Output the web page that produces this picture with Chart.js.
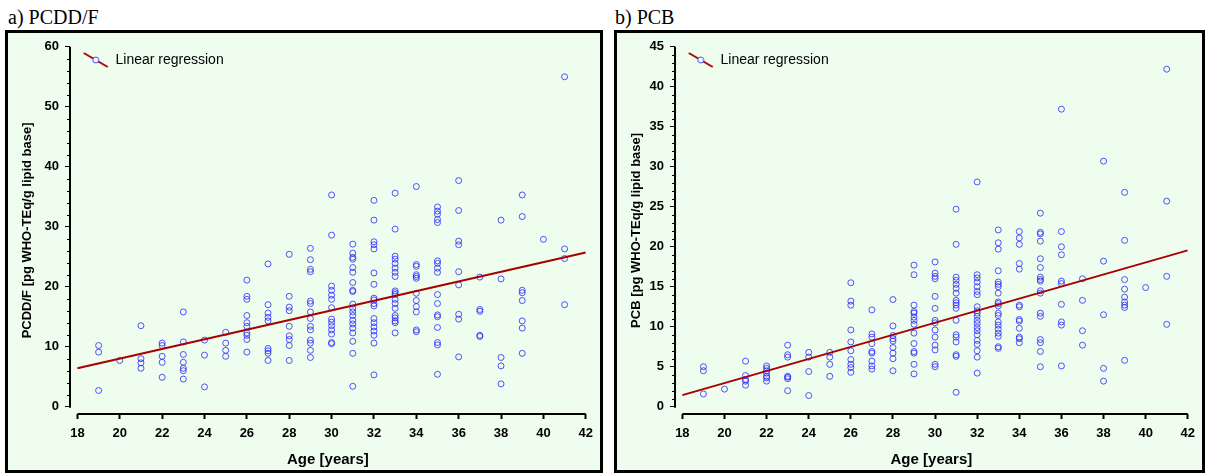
<!DOCTYPE html>
<html lang="en">
<head>
<meta charset="UTF-8">
<title>PCDD/F and PCB vs age</title>
<script src="https://cdn.jsdelivr.net/npm/chart.js@4.4.0/dist/chart.umd.min.js"></script>
<style>
    body {
        margin: 0;
        width: 1208px;
        height: 475px;
        position: relative;
        overflow: hidden;
        background: #fff;
        font-family: 'Liberation Sans', Arial, sans-serif;
    }
    .caption {
        position: absolute;
        top: 7px;
        font-family: 'Liberation Serif', 'Times New Roman', serif;
        font-size: 20px;
        line-height: 20px;
        color: #000;
    }
    .panel {
        position: absolute;
        top: 30px;
        border: 3px solid #000;
        background: #eefdee;
    }
    .panel canvas { display: block; }
</style>
</head>
<body>
<div class="caption" style="left:8px">a) PCDD/F</div>
<div class="caption" style="left:615px">b) PCB</div>
<div class="panel" style="left:5px;width:592px;height:437px"><canvas id="chartA" width="592" height="437"></canvas></div>
<div class="panel" style="left:614px;width:585px;height:437px"><canvas id="chartB" width="585" height="437"></canvas></div>

<script>
// ages at which samples were taken (x categories)
const ages = [19, 20, 21, 22, 23, 24, 25, 26, 27, 28, 29, 30, 31, 32, 33, 34, 35, 36, 37, 38, 39, 40, 41];
const ageTicks = [18, 20, 22, 24, 26, 28, 30, 32, 34, 36, 38, 40, 42];

// PCDD/F values per age (pg WHO-TEq/g lipid base)
const pcddfValues = [
    [10.2, 9.1, 2.7],
    [7.7],
    [13.5, 8.0, 7.3, 6.4],
    [10.6, 10.2, 8.4, 7.4, 4.9],
    [15.8, 10.8, 8.7, 7.4, 6.4, 6.0, 4.6],
    [11.1, 8.6, 3.3],
    [12.4, 10.6, 9.4, 8.4],
    [21.1, 18.4, 17.9, 15.2, 14.0, 13.4, 12.3, 11.9, 11.2, 9.1],
    [23.8, 17.0, 15.6, 14.9, 14.3, 9.7, 9.3, 8.9, 7.7],
    [25.4, 18.4, 16.6, 16.0, 13.4, 11.8, 11.2, 10.2, 7.7],
    [26.4, 24.5, 22.9, 22.5, 17.6, 17.2, 15.8, 14.7, 13.4, 12.8, 11.1, 10.6, 9.4, 8.2],
    [35.3, 28.6, 20.1, 19.4, 18.6, 17.9, 16.5, 14.6, 14.1, 13.5, 12.8, 12.1, 10.7, 10.5],
    [27.1, 25.6, 24.9, 24.6, 23.2, 22.4, 20.7, 19.4, 19.2, 17.1, 16.4, 15.8, 15.2, 14.4, 13.8, 13.1, 12.3, 10.9, 8.9, 3.4],
    [34.4, 31.1, 27.5, 27.0, 26.3, 22.3, 20.4, 18.1, 17.8, 17.2, 16.8, 14.7, 14.0, 13.3, 12.6, 11.9, 10.6, 5.3],
    [35.6, 29.6, 25.1, 24.6, 23.9, 23.1, 22.4, 21.7, 19.3, 19.0, 18.7, 17.9, 17.2, 16.4, 15.2, 14.8, 14.3, 14.0, 12.3],
    [36.7, 23.7, 23.4, 22.0, 21.7, 21.4, 18.9, 17.7, 16.7, 15.8, 12.8, 12.5],
    [33.3, 32.6, 32.1, 31.2, 30.7, 24.3, 23.9, 23.1, 22.4, 18.7, 17.2, 15.3, 15.0, 13.2, 10.7, 10.3, 5.4],
    [37.7, 32.7, 27.6, 27.0, 22.5, 20.3, 15.4, 14.6, 8.3],
    [21.6, 16.2, 15.9, 11.9, 11.7],
    [31.1, 21.3, 8.2, 6.8, 3.8],
    [35.3, 31.7, 19.4, 19.0, 17.7, 14.3, 13.1, 8.9],
    [27.9],
    [55.0, 26.3, 24.7, 17.0]
];

// PCB values per age (pg WHO-TEq/g lipid base)
const pcbValues = [
    [5.0, 4.5, 1.6],
    [2.2],
    [5.7, 3.9, 3.4, 3.2, 2.7],
    [5.1, 4.8, 4.5, 4.2, 3.8, 3.6, 3.2],
    [7.7, 6.5, 6.2, 3.8, 3.7, 3.5, 2.0],
    [6.8, 6.2, 4.4, 1.4],
    [6.8, 6.2, 5.3, 3.8],
    [15.5, 13.2, 12.7, 9.6, 8.1, 7.0, 5.9, 5.3, 4.9, 4.3],
    [12.1, 9.1, 8.7, 7.9, 6.9, 6.7, 5.7, 5.1, 4.7],
    [13.4, 10.1, 8.9, 8.5, 8.2, 7.4, 6.7, 6.0, 4.5],
    [17.7, 16.5, 12.7, 11.9, 11.7, 11.2, 10.8, 10.3, 9.2, 7.9, 6.9, 6.7, 5.3, 4.1],
    [18.1, 16.7, 16.3, 16.0, 13.8, 12.3, 10.8, 10.5, 9.6, 8.7, 7.7, 7.1, 5.3, 5.0],
    [24.7, 20.3, 16.2, 15.8, 15.3, 14.8, 14.2, 13.3, 13.0, 12.7, 12.3, 10.8, 9.0, 8.7, 8.1, 6.5, 6.3, 1.8],
    [28.1, 16.5, 16.1, 15.6, 15.0, 14.4, 14.0, 12.5, 12.0, 11.7, 11.3, 10.8, 10.4, 9.9, 9.5, 9.0, 8.3, 7.8, 7.0, 6.2, 4.2],
    [22.1, 20.5, 19.7, 17.0, 15.6, 15.3, 15.0, 14.2, 13.1, 12.9, 12.6, 11.7, 11.4, 10.6, 10.2, 9.7, 9.2, 8.8, 7.5, 7.3],
    [21.9, 21.1, 20.3, 17.9, 17.2, 12.7, 12.5, 10.9, 10.7, 9.8, 8.7, 8.5, 8.0],
    [24.2, 21.8, 21.6, 20.7, 18.5, 17.4, 16.2, 15.9, 15.7, 14.5, 14.2, 11.7, 11.3, 8.4, 8.0, 6.9, 5.0],
    [37.2, 21.9, 20.0, 19.0, 15.7, 15.4, 12.8, 10.6, 10.2, 5.1],
    [16.0, 13.3, 9.5, 7.7],
    [30.7, 18.2, 11.5, 4.8, 3.2],
    [26.8, 20.8, 15.9, 14.7, 13.7, 13.1, 12.7, 12.4, 5.8],
    [14.9],
    [42.2, 25.7, 16.3, 10.3]
];

// regression line end points
const fitA = [{x: 18, y: 6.4}, {x: 42, y: 25.7}];
const fitB = [{x: 18, y: 1.45}, {x: 42, y: 19.55}];

const pcddfTicks = [0, 10, 20, 30, 40, 50, 60];
const pcbTicks = [0, 5, 10, 15, 20, 25, 30, 35, 40, 45];

const bgColor = '#eefdee';
const pointColor = 'rgba(40, 40, 255, 0.8)';
const lineColor = '#a80000';
const fontFamily = "'Liberation Sans', Arial, sans-serif";

function toPoints(values) {
    const pts = [];
    ages.forEach((age, i) => values[i].forEach(v => pts.push({x: age, y: v})));
    return pts;
}

// legend symbol: slanted line with a circle on it
function legendIcon() {
    const c = document.createElement('canvas');
    c.width = 40;
    c.height = 20;
    const g = c.getContext('2d');
    const cx = 23, cy = 10;
    g.strokeStyle = lineColor;
    g.lineWidth = 2;
    g.beginPath();
    g.moveTo(cx - 12, cy - 7);
    g.lineTo(cx + 12, cy + 7);
    g.stroke();
    g.fillStyle = bgColor;
    g.strokeStyle = pointColor;
    g.lineWidth = 1;
    g.beginPath();
    g.arc(cx, cy, 3, 0, Math.PI * 2);
    g.fill();
    g.stroke();
    return c;
}

// axis lines detached from each other + minor y ticks
const axisLines = {
    id: 'axisLines',
    afterDraw(chart, args, o) {
        const {ctx, chartArea, scales: {x, y}} = chart;
        ctx.save();
        ctx.strokeStyle = '#000';
        ctx.lineWidth = 2;
        ctx.beginPath();
        ctx.moveTo(chartArea.left, y.getPixelForValue(o.yMax));
        ctx.lineTo(chartArea.left, y.getPixelForValue(0) + 1);
        ctx.moveTo(x.getPixelForValue(ageTicks[0]), chartArea.bottom);
        ctx.lineTo(x.getPixelForValue(ageTicks[ageTicks.length - 1]), chartArea.bottom);
        ctx.stroke();
        ctx.lineWidth = 1;
        ctx.beginPath();
        for (let v = 0; v <= o.yMax; v += o.minor) {
            if (v % o.major === 0) continue;
            const py = Math.round(y.getPixelForValue(v)) + 0.5;
            ctx.moveTo(chartArea.left - 3, py);
            ctx.lineTo(chartArea.left, py);
        }
        ctx.stroke();
        ctx.restore();
    }
};

function makeChart(id, cfg) {
    const tickFont = {family: fontFamily, size: 13, weight: 'bold'};
    return new Chart(document.getElementById(id), {
        type: 'scatter',
        data: {
            datasets: [{
                label: 'Linear regression',
                data: cfg.fit,
                showLine: true,
                borderColor: lineColor,
                borderWidth: 2,
                pointRadius: 0,
                pointStyle: legendIcon()
            }, {
                label: 'samples',
                data: toPoints(cfg.values),
                pointStyle: 'circle',
                pointRadius: 3,
                borderWidth: 1,
                borderColor: pointColor,
                backgroundColor: 'rgba(0,0,0,0)'
            }]
        },
        options: {
            responsive: false,
            animation: false,
            events: [],
            layout: {padding: {top: 13.7, right: cfg.padRight, left: 0, bottom: 0}},
            plugins: {
                tooltip: {enabled: false},
                axisLines: {yMax: cfg.yMax, minor: cfg.minor, major: cfg.major},
                legend: {
                    position: 'chartArea',
                    align: 'start',
                    // empty title only used to push the entry down
                    title: {display: true, text: ' ', font: {size: 10}, padding: {top: 1, bottom: 0}},
                    labels: {
                        usePointStyle: true,
                        pointStyleWidth: 31.5,
                        padding: 7,
                        color: '#000',
                        font: {family: fontFamily, size: 14},
                        filter: item => item.datasetIndex === 0
                    }
                }
            },
            scales: {
                x: {
                    type: 'linear',
                    min: 17.65,
                    max: 42,
                    afterBuildTicks: s => { s.ticks = ageTicks.map(v => ({value: v})); },
                    afterFit: s => { s.height = 56; },
                    border: {display: false},
                    grid: {drawOnChartArea: false, drawTicks: true, tickLength: 5, tickWidth: 2, tickColor: '#000'},
                    ticks: {color: '#000', font: tickFont, padding: 7, maxRotation: 0, autoSkip: false},
                    title: {
                        display: true,
                        text: 'Age [years]',
                        color: '#000',
                        font: {family: fontFamily, size: 15, weight: 'bold'},
                        padding: {top: 0, bottom: 1.5}
                    }
                },
                y: {
                    type: 'linear',
                    min: cfg.yMin,
                    max: cfg.yMax,
                    afterBuildTicks: s => { s.ticks = cfg.yTicks.map(v => ({value: v})); },
                    afterFit: s => { s.width = cfg.yWidth; },
                    border: {display: false},
                    grid: {drawOnChartArea: false, drawTicks: true, tickLength: 5, tickWidth: 1, tickColor: '#000'},
                    ticks: {color: '#000', font: tickFont, padding: 6, autoSkip: false},
                    title: {
                        display: true,
                        text: cfg.yTitle,
                        color: '#000',
                        font: {family: fontFamily, size: 13, weight: 'bold'},
                        padding: {top: 12, bottom: 0}
                    }
                }
            }
        },
        plugins: [axisLines]
    });
}

makeChart('chartA', {
    values: pcddfValues,
    fit: fitA,
    yTicks: pcddfTicks,
    yMin: -1.22,
    yMax: 60,
    major: 10,
    minor: 2,
    yWidth: 62,
    padRight: 10.7,
    yTitle: 'PCDD/F [pg WHO-TEq/g lipid base]'
});

makeChart('chartB', {
    values: pcbValues,
    fit: fitB,
    yTicks: pcbTicks,
    yMin: -0.91,
    yMax: 45,
    major: 5,
    minor: 1,
    yWidth: 58,
    padRight: 7.7,
    yTitle: 'PCB [pg WHO-TEq/g lipid base]'
});
</script>
</body>
</html>
